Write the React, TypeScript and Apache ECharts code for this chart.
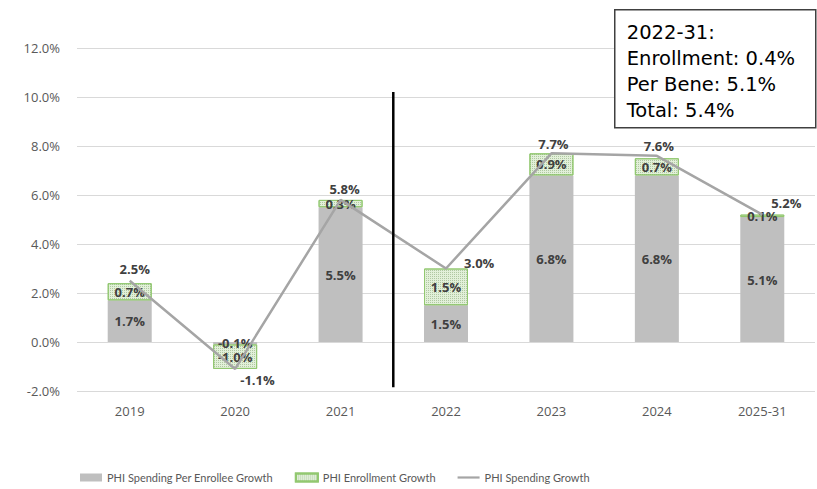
import React, { useEffect, useRef } from "react";
import * as echarts from "echarts";

const categories = ["2019", "2020", "2021", "2022", "2023", "2024", "2025-31"];
const perEnrolleeGrowth = [1.7, -0.1, 5.5, 1.5, 6.8, 6.8, 5.1];
const enrollmentGrowth = [0.7, -1.0, 0.3, 1.5, 0.9, 0.7, 0.1];
const spendingGrowth = [2.5, -1.1, 5.8, 3.0, 7.7, 7.6, 5.2];
const yTicks = { min: -2, max: 12, interval: 2 };
const noteLines = ["2022-31:", "Enrollment: 0.4%", "Per Bene: 5.1%", "Total: 5.4%"];
const dividerRange = [10.2, -1.85];

// label placement for the line series (style only)
const lineLabelPlacement: any[] = [
  { position: "top", distance: 5, offset: [5, 0] },
  { position: "right", distance: 5, offset: [0, 11] },
  { position: "top", distance: 4, offset: [4, 0] },
  { position: "right", distance: 18, offset: [0, -6] },
  { position: "top", distance: 3, offset: [2, 0] },
  { position: "top", distance: 3, offset: [2, 0] },
  { position: "top", distance: 3, offset: [24, -2] },
];

const fmt = (v: number) => v.toFixed(1) + "%";

export default function App() {
  const ref = useRef<HTMLDivElement>(null);
  useEffect(() => {
    if (!ref.current) return;
    const chart = echarts.init(ref.current, null, { renderer: "svg" });
    const labelStyle = {
      show: true,
      position: "inside",
      fontFamily: "Open Sans",
      fontWeight: "bold",
      fontSize: 13,
      color: "#404040",
      formatter: (p: any) => fmt(p.value),
    };
    chart.setOption({
      animation: false,
      backgroundColor: "#ffffff",
      grid: { left: 77, right: 2, top: 48, bottom: 98, containLabel: false },
      legend: {
        top: 467,
        left: 75,
        itemWidth: 22,
        itemHeight: 8,
        itemGap: 22,
        textStyle: { fontFamily: "Lato", fontSize: 11, color: "#595959" },
        data: [
          { name: "PHI Spending Per Enrollee Growth", icon: "rect" },
          { name: "PHI Enrollment Growth", icon: "rect" },
          { name: "PHI Spending Growth", icon: "path://M0,0H25V2.5H0Z" },
        ],
      },
      xAxis: {
        type: "category",
        data: categories,
        axisLine: { show: false },
        axisTick: { show: false },
        axisLabel: { fontFamily: "Open Sans", fontSize: 13, color: "#595959", margin: 13 },
      },
      yAxis: {
        type: "value",
        min: yTicks.min,
        max: yTicks.max,
        interval: yTicks.interval,
        axisLabel: {
          fontFamily: "Open Sans",
          fontSize: 13,
          color: "#595959",
          margin: 17,
          formatter: (v: number) => fmt(v),
        },
        splitLine: { lineStyle: { color: "#d9d9d9", width: 1 } },
        axisLine: { show: false },
        axisTick: { show: false },
      },
      series: [
        {
          name: "PHI Spending Per Enrollee Growth",
          type: "bar",
          stack: "total",
          barWidth: 44,
          data: perEnrolleeGrowth,
          itemStyle: { color: "#bfbfbf" },
          label: labelStyle,
        },
        {
          name: "PHI Enrollment Growth",
          type: "bar",
          stack: "total",
          barWidth: 44,
          data: enrollmentGrowth,
          itemStyle: {
            color: "#e2f0d9",
            borderColor: "#92c870",
            borderWidth: 1,
            decal: {
              symbol: "rect",
              symbolSize: 1,
              color: "rgba(100,140,80,0.4)",
              dashArrayX: [1, 1],
              dashArrayY: [1, 1],
              rotation: 0,
            },
          },
          label: labelStyle,
        },
        {
          name: "PHI Spending Growth",
          type: "line",
          symbol: "circle",
          symbolSize: 0.1,
          showSymbol: true,
          data: spendingGrowth.map((v, i) => ({
            value: v,
            label: { ...lineLabelPlacement[i] },
          })),
          lineStyle: { color: "#a5a5a5", width: 2.5 },
          itemStyle: { color: "#a5a5a5" },
          label: {
            show: true,
            fontFamily: "Open Sans",
            fontWeight: "bold",
            fontSize: 13,
            color: "#404040",
            formatter: (p: any) => fmt(p.value),
          },
          z: 5,
        },
      ],
    });

    const x1 = chart.convertToPixel({ xAxisIndex: 0 }, categories[2]) as number;
    const x2 = chart.convertToPixel({ xAxisIndex: 0 }, categories[3]) as number;
    const yTop = chart.convertToPixel({ yAxisIndex: 0 }, dividerRange[0]) as number;
    const yBot = chart.convertToPixel({ yAxisIndex: 0 }, dividerRange[1]) as number;
    const xm = (x1 + x2) / 2;
    chart.setOption({
      graphic: [
        {
          type: "line",
          shape: { x1: xm, y1: yTop, x2: xm, y2: yBot },
          style: { stroke: "#000000", lineWidth: 2.5 },
          z: 10,
        },
        {
          type: "group",
          left: 614,
          top: 9,
          z: 20,
          children: [
            {
              type: "rect",
              shape: { x: 0, y: 0, width: 201, height: 118 },
              style: { fill: "#ffffff", stroke: "#404040", lineWidth: 1.5 },
            },
            ...noteLines.map((t, i) => ({
              type: "text",
              x: 12,
              y: 23 + i * 26,
              style: {
                text: t,
                fontFamily: "DejaVu Sans",
                fontSize: 19.5,
                fill: "#000000",
                verticalAlign: "middle",
              },
            })),
          ],
        },
      ],
    });
    return () => chart.dispose();
  }, []);
  return (
    <div
      ref={ref}
      style={{ position: "fixed", left: 0, top: 0, width: 817, height: 489 }}
    />
  );
}
